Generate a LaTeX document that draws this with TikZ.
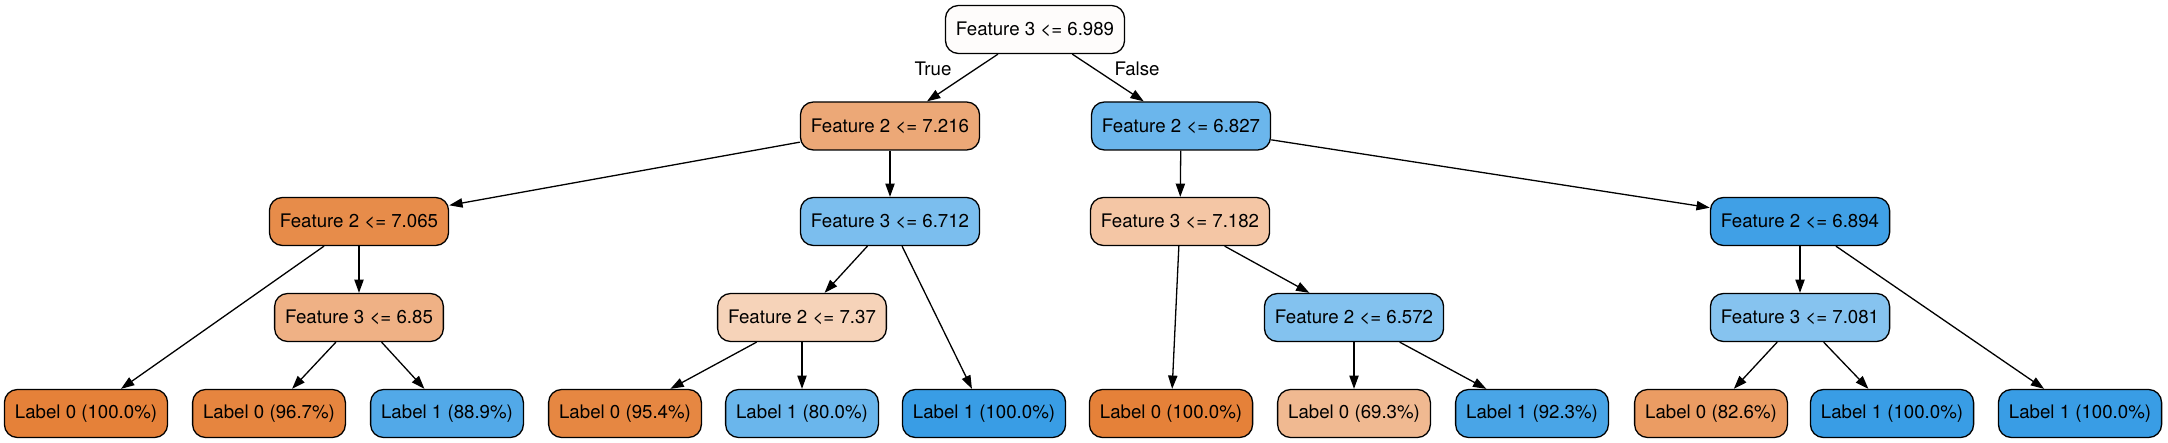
\documentclass[tikz,border=0pt]{standalone}
\usepackage{fontspec}
\setmainfont{TeX Gyre Heros}
\usetikzlibrary{arrows.meta}
\definecolor{cRoot}{HTML}{FEFCFB}
\definecolor{cA}{HTML}{ECA877}
\definecolor{cB}{HTML}{6BB6EC}
\definecolor{cC}{HTML}{E78C4A}
\definecolor{cD}{HTML}{7BBEEE}
\definecolor{cE}{HTML}{F4C6A5}
\definecolor{cF}{HTML}{40A0E6}
\definecolor{cG}{HTML}{EFB185}
\definecolor{cH}{HTML}{F6D3B9}
\definecolor{cI}{HTML}{83C2EF}
\definecolor{cJ}{HTML}{86C3EF}
\definecolor{oFull}{HTML}{E58139}
\definecolor{o967}{HTML}{E6853F}
\definecolor{o954}{HTML}{E68742}
\definecolor{o826}{HTML}{EB9C63}
\definecolor{o693}{HTML}{F0B991}
\definecolor{bFull}{HTML}{399DE5}
\definecolor{b889}{HTML}{52A9E8}
\definecolor{b800}{HTML}{6AB6EC}
\definecolor{b923}{HTML}{49A5E7}
\begin{document}
\begin{tikzpicture}[x=1pt,y=-1pt,
  tnode/.style={draw=black, line width=1.3pt, rounded corners=13pt,
    minimum height=48pt, inner xsep=10.5pt, inner ysep=0pt,
    font=\fontsize{18.67}{22}\selectfont, text=black},
  conn/.style={draw=black, line width=1.3pt,
    -{Triangle[length=13.3pt,width=9.3pt]}},
  elabel/.style={font=\fontsize{18.67}{22}\selectfont, inner sep=0pt}]
\useasboundingbox (0,0) rectangle (2168,443);
% level 0
\node[tnode, fill=cRoot] (n0) at (1035,29.5) {Feature 3 <= 6.989};
% level 1
\node[tnode, fill=cA] (n1) at (890,126) {Feature 2 <= 7.216};
\node[tnode, fill=cB] (n2) at (1181,126) {Feature 2 <= 6.827};
% level 2
\node[tnode, fill=cC] (n3) at (359,221.5) {Feature 2 <= 7.065};
\node[tnode, fill=cD] (n4) at (890,221.5) {Feature 3 <= 6.712};
\node[tnode, fill=cE] (n5) at (1180,221.5) {Feature 3 <= 7.182};
\node[tnode, fill=cF] (n6) at (1800,221.5) {Feature 2 <= 6.894};
% level 3
\node[tnode, fill=cG] (n7) at (359,317.5) {Feature 3 <= 6.85};
\node[tnode, fill=cH] (n8) at (802,317.5) {Feature 2 <= 7.37};
\node[tnode, fill=cI] (n9) at (1354,317.5) {Feature 2 <= 6.572};
\node[tnode, fill=cJ] (n10) at (1800,317.5) {Feature 3 <= 7.081};
% leaves
\node[tnode, fill=oFull] (l1) at (86,413.5) {Label 0 (100.0\%)};
\node[tnode, fill=o967] (l2) at (269,413.5) {Label 0 (96.7\%)};
\node[tnode, fill=b889] (l3) at (447,413.5) {Label 1 (88.9\%)};
\node[tnode, fill=o954] (l4) at (625,413.5) {Label 0 (95.4\%)};
\node[tnode, fill=b800] (l5) at (802,413.5) {Label 1 (80.0\%)};
\node[tnode, fill=bFull] (l6) at (984,413.5) {Label 1 (100.0\%)};
\node[tnode, fill=oFull] (l7) at (1171,413.5) {Label 0 (100.0\%)};
\node[tnode, fill=o693] (l8) at (1354,413.5) {Label 0 (69.3\%)};
\node[tnode, fill=b923] (l9) at (1532,413.5) {Label 1 (92.3\%)};
\node[tnode, fill=o826] (l10) at (1711,413.5) {Label 0 (82.6\%)};
\node[tnode, fill=bFull] (l11) at (1892,413.5) {Label 1 (100.0\%)};
\node[tnode, fill=bFull] (l12) at (2080,413.5) {Label 1 (100.0\%)};
% edge labels
\node[elabel] (tTrue) at (933,69) {True};
\node[elabel] (tFalse) at (1137,69) {False};
% edges
\draw[conn] (n0) -- (n1);
\draw[conn] (n0) -- (n2);
\draw[conn] (n1) -- (n3);
\draw[conn] (n1) -- (n4);
\draw[conn] (n2) -- (n5);
\draw[conn] (n2) -- (n6);
\draw[conn] (n3) -- (l1);
\draw[conn] (n3) -- (n7);
\draw[conn] (n7) -- (l2);
\draw[conn] (n7) -- (l3);
\draw[conn] (n4) -- (n8);
\draw[conn] (n4) -- (l6);
\draw[conn] (n8) -- (l4);
\draw[conn] (n8) -- (l5);
\draw[conn] (n5) -- (l7);
\draw[conn] (n5) -- (n9);
\draw[conn] (n9) -- (l8);
\draw[conn] (n9) -- (l9);
\draw[conn] (n6) -- (n10);
\draw[conn] (n6) -- (l12);
\draw[conn] (n10) -- (l10);
\draw[conn] (n10) -- (l11);
\end{tikzpicture}
\end{document}
